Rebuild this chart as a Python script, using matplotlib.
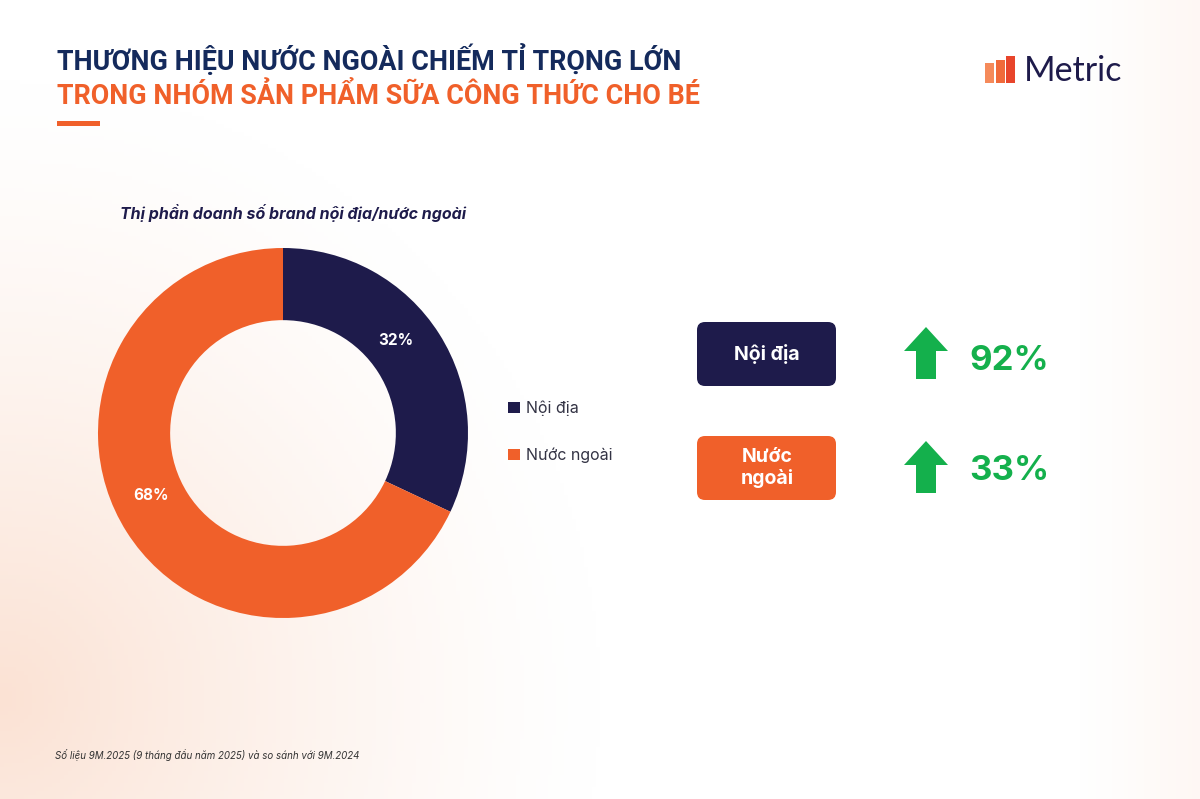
import matplotlib
matplotlib.use("Agg")
import matplotlib.pyplot as plt
import numpy as np
from matplotlib.patches import FancyBboxPatch, Rectangle, FancyArrow

# dữ liệu
labels = ["Nội địa", "Nước ngoài"]
shares = [32, 68]
growth = [92, 33]
colors = ["#1e1b4b", "#f0602a"]

title1 = "THƯƠNG HIỆU NƯỚC NGOÀI CHIẾM TỈ TRỌNG LỚN"
title2 = "TRONG NHÓM SẢN PHẨM SỮA CÔNG THỨC CHO BÉ"
subtitle = "Thị phần doanh số brand nội địa/nước ngoài"
footnote = "Số liệu 9M.2025 (9 tháng đầu năm 2025) và so sánh với 9M.2024"
box_labels = ["Nội địa", "Nước\nngoài"]

W, H = 1200, 799
plt.rcParams['font.family'] = ['Inter', 'DejaVu Sans']
fig = plt.figure(figsize=(W / 100, H / 100), dpi=100)

# nền gradient
bg = fig.add_axes([0, 0, 1, 1])
bg.set_xlim(0, W)
bg.set_ylim(H, 0)
bg.axis('off')
xx, yy = np.meshgrid(np.linspace(0, W, 300), np.linspace(0, H, 200))
d1 = np.sqrt((xx / 600) ** 2 + ((yy - 700) / 620) ** 2)
t = np.clip(1 - d1, 0, 1) ** 1.3
t += 0.25 * np.clip((xx - 1080) / 120, 0, 1)
t = np.clip(t, 0, 1)
peach = np.array([251, 226, 212]) / 255
img = 1 - t[..., None] * (1 - peach)
bg.imshow(img, extent=[0, W, H, 0], aspect='auto', zorder=0)

# tiêu đề
bg.text(57, 60, title1, color="#142a5c", fontsize=19.4, fontweight='bold',
        family='Roboto', va='center', ha='left')
bg.text(57, 96, title2, color="#f0602a", fontsize=19.4, fontweight='bold',
        family='Roboto', va='center', ha='left')
bg.add_patch(Rectangle((57, 121), 43, 5, color="#f0602a", lw=0))

# logo
for i, (top, c) in enumerate(zip([63, 60, 56], ["#f58a5a", "#f06a3a", "#e8452b"])):
    bg.add_patch(Rectangle((985 + i * 10.5, top), 9, 83 - top, color=c, lw=0))
bg.text(1024, 71, "Metric", color="#1e1b4b", fontsize=24.5, family='Lato',
        va='center', ha='left')

bg.text(120, 213, subtitle, color="#1e1b4b", fontsize=11.5, fontweight='bold',
        fontstyle='italic', va='center', ha='left')
bg.text(55, 755, footnote, color="#333333", fontsize=7, fontstyle='italic',
        va='center', ha='left')

# donut
cx, cy, r = 283, 433, 185
ax = fig.add_axes([(cx - r) / W, (H - cy - r) / H, 2 * r / W, 2 * r / H])
wedges, _ = ax.pie(shares, colors=colors, startangle=90, counterclock=False,
                   radius=1, wedgeprops=dict(width=0.39, linewidth=0))
ax.set_xlim(-1, 1)
ax.set_ylim(-1, 1)
ax.set_aspect('equal')
for w, v, off in zip(wedges, shares, [7, -7]):
    ang = np.deg2rad((w.theta1 + w.theta2) / 2 + off)
    ax.text(0.79 * np.cos(ang), 0.79 * np.sin(ang), f"{v}%", color='white',
            fontsize=11, fontweight='bold', ha='center', va='center')

leg = ax.legend(wedges, labels, loc='center left',
                bbox_to_anchor=(494 / W, (H - 432) / H),
                bbox_transform=fig.transFigure, frameon=False,
                handlelength=0.7, handleheight=0.7, handletextpad=0.4,
                labelspacing=2.0, fontsize=11.5, labelcolor="#333344")

# hộp và mũi tên tăng trưởng
box_y = [354, 468]
text_dy = [7, 3]
for lab, c, y, g, dy in zip(box_labels, colors, box_y, growth, text_dy):
    bg.add_patch(FancyBboxPatch((697, y - 32), 139, 64,
                                boxstyle="round,pad=0,rounding_size=8",
                                color=c, lw=0))
    bg.text(767, y, lab, color='white', fontsize=14, fontweight='bold',
            ha='center', va='center', linespacing=1.2)
    bg.add_patch(FancyArrow(926, y + 25, 0, -52, width=20, head_width=44,
                            head_length=24, length_includes_head=True,
                            color="#14b04c", lw=0))
    bg.text(969, y + dy, f"{g}%", color="#14b04c", fontsize=25,
            fontweight='bold', ha='left', va='center')

fig.savefig("out.png", dpi=100)
